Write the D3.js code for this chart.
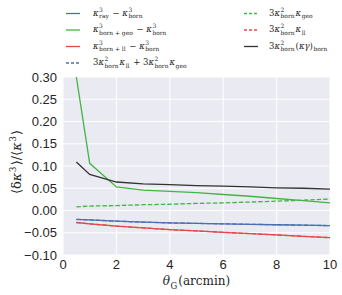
<!DOCTYPE html>
<html>
<head>
<meta charset="utf-8">
<script src="https://cdn.jsdelivr.net/npm/d3@7"></script>
<style>
  body { margin: 0; background: #fff; }
  svg { display: block; }
</style>
</head>
<body>
<svg id="chart" width="342" height="295"></svg>
<script>
// smoothing scale (arcmin)
const thetaG = [0.5, 1, 2, 3, 4, 5, 6, 7, 8, 9, 10];

// ratios
const rayMinusBorn   = [-0.020, -0.021, -0.024, -0.026, -0.028, -0.029, -0.030, -0.031, -0.032, -0.033, -0.034];
const geoMinusBorn   = [0.300, 0.106, 0.053, 0.046, 0.043, 0.040, 0.036, 0.032, 0.027, 0.022, 0.017];
const llMinusBorn    = [-0.027, -0.030, -0.035, -0.039, -0.043, -0.046, -0.049, -0.052, -0.055, -0.058, -0.061];
const llPlusGeo      = [-0.020, -0.021, -0.024, -0.026, -0.028, -0.029, -0.030, -0.031, -0.032, -0.033, -0.034];
const bornGeo        = [0.008, 0.010, 0.011, 0.013, 0.014, 0.016, 0.017, 0.019, 0.021, 0.023, 0.026];
const bornLl         = [-0.027, -0.030, -0.035, -0.039, -0.043, -0.046, -0.049, -0.052, -0.055, -0.058, -0.061];
const bornKappaGamma = [0.109, 0.081, 0.064, 0.060, 0.058, 0.056, 0.055, 0.053, 0.051, 0.050, 0.048];

const xTicks = [0, 2, 4, 6, 8, 10];
const yTicks = [-0.10, -0.05, 0.00, 0.05, 0.10, 0.15, 0.20, 0.25, 0.30];

const blue = '#4C6FB0', green = '#45B345', red = '#E24A4A', dark = '#333333';

// math tokens: {t, i} plain/italic text, {sup, sub} stacked scripts
const K = {t: 'κ', i: true};
const series = [
  {data: rayMinusBorn, color: blue, dash: null,
   label: [K, {sup: '3', sub: 'ray'}, {t: ' − '}, K, {sup: '3', sub: 'born'}]},
  {data: geoMinusBorn, color: green, dash: null,
   label: [K, {sup: '3', sub: 'born + geo'}, {t: ' − '}, K, {sup: '3', sub: 'born'}]},
  {data: llMinusBorn, color: red, dash: null,
   label: [K, {sup: '3', sub: 'born + ll'}, {t: ' − '}, K, {sup: '3', sub: 'born'}]},
  {data: llPlusGeo, color: blue, dash: '4.5,2',
   label: [{t: '3'}, K, {sup: '2', sub: 'born'}, K, {sub: 'll'}, {t: ' + 3'}, K, {sup: '2', sub: 'born'}, K, {sub: 'geo'}]},
  {data: bornGeo, color: green, dash: '4.5,2',
   label: [{t: '3'}, K, {sup: '2', sub: 'born'}, K, {sub: 'geo'}]},
  {data: bornLl, color: red, dash: '4.5,2',
   label: [{t: '3'}, K, {sup: '2', sub: 'born'}, K, {sub: 'll'}]},
  {data: bornKappaGamma, color: dark, dash: null,
   label: [{t: '3'}, K, {sup: '2', sub: 'born'}, {t: '('}, K, {t: 'γ', i: true}, {t: ')'}, {sub: 'born'}]}
];

const margin = {left: 63, right: 12, top: 77, bottom: 40};
const W = 342, H = 295;
const svg = d3.select('#chart');

const x = d3.scaleLinear().domain([0, 10]).range([margin.left, W - margin.right]);
const y = d3.scaleLinear().domain([-0.10, 0.30]).range([H - margin.bottom, margin.top]);

// background + grid
svg.append('rect')
  .attr('x', x(0)).attr('y', y(0.30))
  .attr('width', x(10) - x(0)).attr('height', y(-0.10) - y(0.30))
  .attr('fill', '#EAEAF2');

svg.append('g').selectAll('line').data(xTicks).enter().append('line')
  .attr('x1', d => x(d)).attr('x2', d => x(d))
  .attr('y1', y(-0.10)).attr('y2', y(0.30))
  .attr('stroke', '#fff').attr('stroke-width', 1);
svg.append('g').selectAll('line').data(yTicks).enter().append('line')
  .attr('x1', x(0)).attr('x2', x(10))
  .attr('y1', d => y(d)).attr('y2', d => y(d))
  .attr('stroke', '#fff').attr('stroke-width', 1);

// tick labels
const fmt = d3.format('.2f');
svg.append('g').selectAll('text').data(yTicks).enter().append('text')
  .attr('x', x(0) - 6).attr('y', d => y(d) + 4.5)
  .attr('text-anchor', 'end')
  .style('font', '13px "Liberation Sans", Arial, sans-serif')
  .attr('fill', '#262626')
  .text(d => fmt(d).replace('-', '−'));
svg.append('g').selectAll('text').data(xTicks).enter().append('text')
  .attr('x', d => x(d)).attr('y', y(-0.10) + 14)
  .attr('text-anchor', 'middle')
  .style('font', '13px "Liberation Sans", Arial, sans-serif')
  .attr('fill', '#262626')
  .text(d => d);

// lines
svg.append('clipPath').attr('id', 'clip').append('rect')
  .attr('x', x(0)).attr('y', y(0.30))
  .attr('width', x(10) - x(0)).attr('height', y(-0.10) - y(0.30));

const line = d3.line().x((d, i) => x(thetaG[i])).y(d => y(d));
const plot = svg.append('g').attr('clip-path', 'url(#clip)');
series.forEach(s => {
  plot.append('path')
    .attr('d', line(s.data))
    .attr('fill', 'none')
    .attr('stroke', s.color)
    .attr('stroke-width', 1.3)
    .attr('stroke-dasharray', s.dash);
});

// math text layout
function drawMath(g, tokens, x0, yb, size) {
  const fam = '"DejaVu Serif", "Liberation Serif", serif';
  const small = size * 0.7;
  let cx = x0;
  function put(txt, px, py, fs, italic) {
    const t = g.append('text').attr('x', px).attr('y', py)
      .style('font-family', fam).style('font-size', fs + 'px')
      .style('font-style', italic ? 'italic' : 'normal')
      .attr('fill', '#262626')
      .attr('xml:space', 'preserve')
      .text(txt);
    return t.node().getComputedTextLength();
  }
  tokens.forEach(tk => {
    if (tk.t !== undefined) {
      cx += put(tk.t, cx, yb, size, tk.i);
    } else {
      let w = 0;
      if (tk.sup) w = Math.max(w, put(tk.sup, cx + 0.5, yb - size * 0.42, small, false));
      if (tk.sub) w = Math.max(w, put(tk.sub, cx + 0.5, yb + size * 0.3, small, false));
      cx += w + 1.5;
    }
  });
  return cx - x0;
}

// legend
const legend = svg.append('g');
const cols = [
  {lx: 66, tx: 93, items: [0, 1, 2, 3]},
  {lx: 244, tx: 269, items: [4, 5, 6]}
];
cols.forEach(c => {
  c.items.forEach((si, r) => {
    const s = series[si];
    const yy = 13.5 + r * 16.5;
    legend.append('line')
      .attr('x1', c.lx).attr('x2', c.lx + 14)
      .attr('y1', yy).attr('y2', yy)
      .attr('stroke', s.color).attr('stroke-width', 1.3)
      .attr('stroke-dasharray', s.dash ? '3,2' : null);
    drawMath(legend, s.label, c.tx, yy + 2, 8.5);
  });
});

// axis labels
const xl = svg.append('g');
const wx = drawMath(xl, [{t: 'θ', i: true}, {sub: 'G'}, {t: '(arcmin)'}], 0, 0, 12);
xl.attr('transform', `translate(${(x(0) + x(10)) / 2 - wx / 2},${H - 10})`);

const yl = svg.append('g');
const wy = drawMath(yl, [{t: '⟨δ'}, K, {sup: '3'}, {t: '⟩/⟨'}, K, {sup: '3'}, {t: '⟩'}], 0, 0, 13);
yl.attr('transform', `translate(21,${(y(-0.10) + y(0.30)) / 2 + wy / 2 - 4}) rotate(-90)`);
</script>
</body>
</html>
